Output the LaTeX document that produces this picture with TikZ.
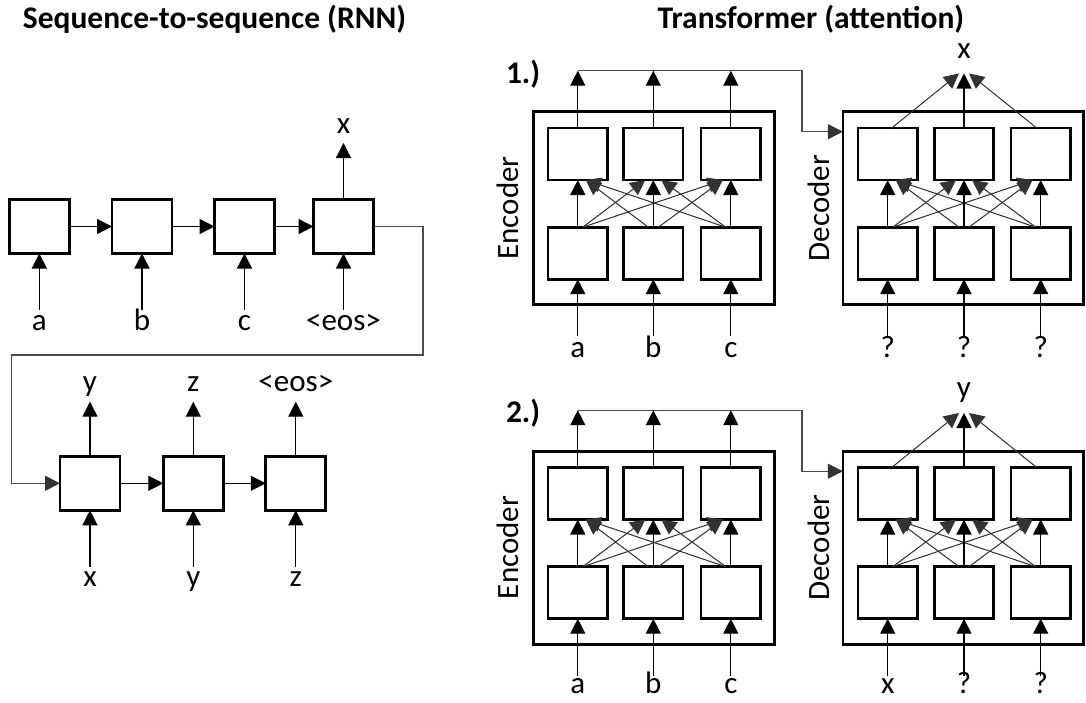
\documentclass[tikz,border=0pt]{standalone}
\usepackage{fontspec}
\setmainfont{Carlito}
\usetikzlibrary{arrows.meta}
\begin{document}
\begin{tikzpicture}[x=1pt,y=-1pt,
  every node/.style={font=\fontsize{31}{36}\selectfont, inner sep=0pt, outer sep=0pt},
  cell/.style={draw, line width=2.8pt, minimum width=60pt, minimum height=54pt},
  tcell/.style={draw, line width=2.8pt, minimum width=59.5pt, minimum height=52pt},
  frame/.style={draw, line width=2.8pt},
  arr/.style={-{Triangle[length=15pt 0 0,width=15pt 0 0]}, line width=1.3pt},
  thinarr/.style={-{Triangle[length=15pt 0 0,width=15pt 0 0]}, line width=1pt, draw=black!80, fill=black},
  wire/.style={line width=1.1pt, draw=black!70},
  lab/.style={anchor=base},
  ttl/.style={anchor=base, font=\fontsize{31.5}{36}\selectfont\bfseries}
]
\useasboundingbox (0,0) rectangle (1086,702);

% titles
\node[ttl] (t1) at (214.5,28) {Sequence-to-sequence (RNN)};
\node[ttl] (t2) at (811,28) {Transformer (attention)};

% ---------- RNN encoder row ----------
\node[cell] (r1) at (39.3,226.5) {};
\node[cell] (r2) at (142,226.5) {};
\node[cell] (r3) at (244.5,226.5) {};
\node[cell] (r4) at (343.5,226.5) {};
\draw[arr] (r1) -- (r2);
\draw[arr] (r2) -- (r3);
\draw[arr] (r3) -- (r4);
\foreach \i/\xx/\t in {1/39.3/a, 2/142/b, 3/244.5/c, 4/343.5/{<eos>}}{
  \coordinate (ri\i) at (\xx,310);
  \node[lab] (rl\i) at (\xx,330) {\t};
  \draw[arr] (ri\i) -- (r\i.south);
}
\coordinate (ro4) at (343.5,143);
\node[lab] (rol4) at (343.5,133) {x};
\draw[arr] (r4.north) -- (ro4);

% ---------- RNN decoder row ----------
\node[cell] (s1) at (90,483.3) {};
\node[cell] (s2) at (193.3,483.3) {};
\node[cell] (s3) at (295.8,483.3) {};
\draw[arr] (s1) -- (s2);
\draw[arr] (s2) -- (s3);
\foreach \i/\xx/\t/\o in {1/90/x/y, 2/193.3/y/z, 3/295.8/z/{<eos>}}{
  \coordinate (si\i) at (\xx,566.7);
  \node[lab] (sl\i) at (\xx,586.7) {\t};
  \draw[arr] (si\i) -- (s\i.south);
  \coordinate (so\i) at (\xx,401.7);
  \node[lab] (sol\i) at (\xx,391) {\o};
  \draw[arr] (s\i.north) -- (so\i);
}
\coordinate (k1) at (423,355);
\coordinate (k2) at (11.7,355);
\draw[wire] (r4.east) -| (k1) -- (k2) |- ([xshift=-14pt]s1.west);
\draw[thinarr] ([xshift=-15pt]s1.west) -- (s1.west);

% ---------- Transformer panels ----------
\foreach \p/\dy/\out/\din/\ly in {1/0/x/?/357, 2/339.5/y/x/354}{
  \node[ttl, anchor=base west] (num\p) at (506,{83+\dy}) {\p.)};
  % frames
  \node[frame, minimum width=241.2pt, minimum height=193.2pt] (E\p) at (653.7,{208.2+\dy}) {};
  \node[frame, minimum width=240.2pt, minimum height=193.2pt] (D\p) at (963,{208.2+\dy}) {};
  \node[rotate=90] (EL\p) at (508,{208+\dy}) {Encoder};
  \node[rotate=90] (DL\p) at (819,{208+\dy}) {Decoder};
  % cells
  \foreach \j/\ex/\dx in {1/577.8/887.7, 2/653.3/964, 3/730.8/1040.7}{
    \node[tcell] (E\p-u\j) at (\ex,{154+\dy}) {};
    \node[tcell] (E\p-d\j) at (\ex,{253.2+\dy}) {};
    \node[tcell] (D\p-u\j) at (\dx,{154+\dy}) {};
    \node[tcell] (D\p-d\j) at (\dx,{253.2+\dy}) {};
    % inputs
    \coordinate (Ei\p-\j) at (\ex,{336+\dy});
    \coordinate (Di\p-\j) at (\dx,{336+\dy});
    \draw[arr] (Ei\p-\j) -- (E\p-d\j.south);
    \draw[arr] (Di\p-\j) -- (D\p-d\j.south);
    % encoder outputs to bus
    \coordinate (B\p-\j) at (\ex,{70.7+\dy});
    \draw[arr] (E\p-u\j.north) -- (B\p-\j);
  }
  \node[lab] (Eil\p-1) at (577.8,{\ly+\dy}) {a};
  \node[lab] (Eil\p-2) at (653.3,{\ly+\dy}) {b};
  \node[lab] (Eil\p-3) at (730.8,{\ly+\dy}) {c};
  \node[lab] (Dil\p-1) at (887.7,{\ly+\dy}) {\din};
  \node[lab] (Dil\p-2) at (964,{\ly+\dy}) {?};
  \node[lab] (Dil\p-3) at (1040.7,{\ly+\dy}) {?};
  % attention cross links
  \foreach \i in {1,2,3}{
    \foreach \j in {1,2,3}{
      \ifnum\i=\j\relax\else
        \pgfmathsetmacro{\sh}{(\i>\j)?8:-8}
        \pgfmathsetmacro{\st}{(\j>\i)?5:-5}
        \draw[thinarr] ([xshift=\st pt]E\p-d\i.north) -- ([xshift=\sh pt]E\p-u\j.south);
        \draw[thinarr] ([xshift=\st pt]D\p-d\i.north) -- ([xshift=\sh pt]D\p-u\j.south);
      \fi
    }
  }
  \foreach \j in {1,2,3}{
    \draw[arr] (E\p-d\j.north) -- (E\p-u\j.south);
    \draw[arr] (D\p-d\j.north) -- (D\p-u\j.south);
  }
  % bus from encoder to decoder
  \coordinate (Bk\p) at (802,{70.7+\dy});
  \coordinate (Bin\p) at (802,{131.7+\dy});
  \draw[wire] (B\p-1) -- (Bk\p) -- (Bin\p) -- ([xshift=-14pt]D\p.west |- Bin\p);
  \draw[thinarr] ([xshift=-15pt]D\p.west |- Bin\p) -- (D\p.west |- Bin\p);
  % decoder output
  \coordinate (Ap\p) at (964,{73.5+\dy});
  \node[lab] (Out\p) at (964,{58+\dy}) {\out};
  \draw[thinarr] ([xshift=4pt]D\p-u1.north) -- ([xshift=-5pt]Ap\p);
  \draw[thinarr] ([xshift=-4pt]D\p-u3.north) -- ([xshift=5pt]Ap\p);
  \draw[arr] (D\p-u2.north) -- (Ap\p);
}
\end{tikzpicture}
\end{document}
